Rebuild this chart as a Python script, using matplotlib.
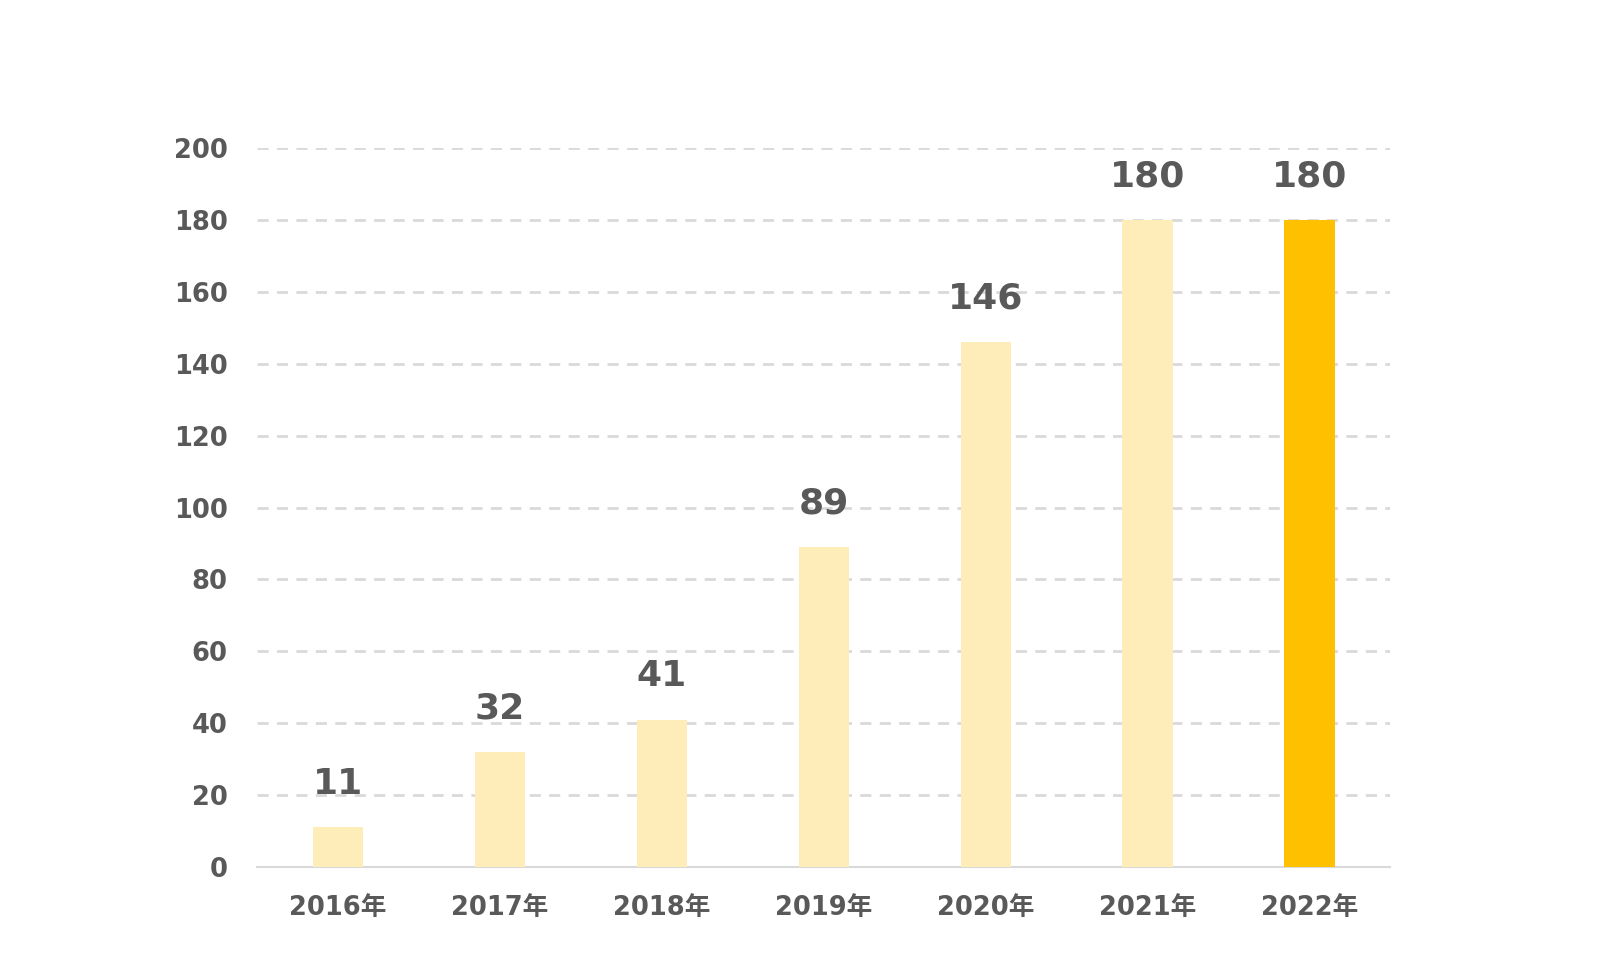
import matplotlib
matplotlib.use("Agg")
import matplotlib.pyplot as plt

plt.rcParams['font.family'] = ['DejaVu Sans', 'Noto Sans CJK JP']

years = ["2016年", "2017年", "2018年", "2019年", "2020年", "2021年", "2022年"]
values = [11, 32, 41, 89, 146, 180, 180]
yticks = [0, 20, 40, 60, 80, 100, 120, 140, 160, 180, 200]

light = "#FFEDB9"
dark = "#FFC000"
txt = "#595959"

fig = plt.figure(figsize=(16, 9.72), dpi=100)
ax = fig.add_axes([0.1606, 0.108, 0.7084, 0.7397])

cols = [light] * (len(values) - 1) + [dark]
x = list(range(len(values)))
bars = ax.bar(x, values, width=0.31, color=cols, zorder=3)

for b, v in zip(bars, values):
    ax.annotate(str(v), (b.get_x() + b.get_width() / 2, v),
                xytext=(0, 24), textcoords="offset points",
                ha="center", va="baseline", fontsize=26, fontweight="bold", color=txt)

ax.set_xlim(-0.5, len(values) - 0.5)
ax.set_ylim(0, 200)
ax.set_yticks(yticks)
ax.set_xticks(x)
ax.set_xticklabels(years)
ax.tick_params(axis="both", length=0, labelsize=18.5, labelcolor=txt)
ax.tick_params(axis="x", pad=20)
ax.tick_params(axis="y", pad=21)
for lab in ax.get_xticklabels() + ax.get_yticklabels():
    lab.set_fontweight("bold")

ax.yaxis.grid(True, color="#D9D9D9", linestyle=(0, (4, 3)), linewidth=2, zorder=0)
for s in ["top", "right", "left"]:
    ax.spines[s].set_visible(False)
ax.spines["bottom"].set_color("#D9D9D9")
ax.spines["bottom"].set_linewidth(1.5)

fig.savefig("out.png", dpi=100)
